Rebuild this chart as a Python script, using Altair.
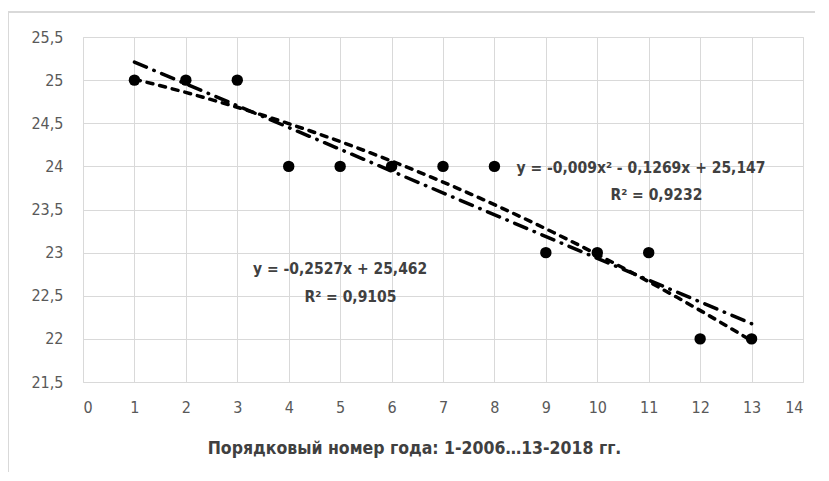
import altair as alt
import pandas as pd

years = [1, 2, 3, 4, 5, 6, 7, 8, 9, 10, 11, 12, 13]
values = [25, 25, 25, 24, 24, 24, 24, 24, 23, 23, 23, 22, 22]

ann_text = ["y = -0,009x² - 0,1269x + 25,147", "R² = 0,9232",
            "y = -0,2527x + 25,462", "R² = 0,9105"]
ann_x = [10.85, 11.15, 5.0, 5.2]
ann_y = [23.98, 23.67, 22.81, 22.48]

df = pd.DataFrame({"x": years, "y": values})
ann = pd.DataFrame({"x": ann_x, "y": ann_y, "t": ann_text})

LABEL_FONT = "Liberation Sans Narrow, DejaVu Sans Condensed, sans-serif"

xs = alt.Scale(domain=[0, 14], nice=False)
ys = alt.Scale(domain=[21.5, 25.5], nice=False, zero=False)

xaxis = alt.Axis(values=list(range(0, 15)), title="Порядковый  номер года: 1-2006…13-2018 гг.",
                 ticks=False, domain=False, labelPadding=17, labelFontSize=16,
                 labelColor="#595959", labelFont=LABEL_FONT, gridColor="#d9d9d9",
                 titleFont=LABEL_FONT, titleFontSize=17.5, titleColor="#404040",
                 titleFontWeight="bold", titlePadding=24, titleX=331, titleAlign="center")
yaxis = alt.Axis(values=[21.5, 22, 22.5, 23, 23.5, 24, 24.5, 25, 25.5], title=None,
                 ticks=False, domain=False, labelPadding=20, labelFontSize=16,
                 labelColor="#595959", labelFont=LABEL_FONT, gridColor="#d9d9d9",
                 labelExpr="replace(toString(datum.value), '.', ',')")

base = alt.Chart(df)

frame = alt.Chart(df).mark_rect(fill=None, stroke="#d9d9d9", strokeWidth=1.5).encode(
    x=alt.value(-75), x2=alt.value(800), y=alt.value(-25), y2=alt.value(520))

points = base.mark_circle(size=130, color="black", opacity=1).encode(
    x=alt.X("x:Q", scale=xs, axis=xaxis),
    y=alt.Y("y:Q", scale=ys, axis=yaxis),
)

lin = base.transform_regression("x", "y", method="linear", extent=[1, 13]).mark_line(
    color="black", strokeWidth=3.5, strokeDash=[13, 8, 0.5, 8], strokeCap="round"
).encode(x=alt.X("x:Q", scale=xs), y=alt.Y("y:Q", scale=ys))

poly = base.transform_regression("x", "y", method="poly", order=2, extent=[1, 13]).mark_line(
    color="black", strokeWidth=3.5, strokeDash=[6, 7], strokeCap="round"
).encode(x=alt.X("x:Q", scale=xs), y=alt.Y("y:Q", scale=ys))

texts = alt.Chart(ann).mark_text(font=LABEL_FONT, fontSize=15.5, fontWeight="bold",
                                 color="#404040", align="center", baseline="middle").encode(
    x=alt.X("x:Q", scale=xs), y=alt.Y("y:Q", scale=ys), text="t:N")

chart = alt.layer(frame, points, lin, poly, texts).properties(
    width=720, height=345,
    autosize=alt.AutoSizeParams(type="none"),
    padding={"left": 75, "top": 29, "right": 12, "bottom": 90},
).configure_view(stroke="#d9d9d9").configure(background="white")

chart.save("out.html", embed_options={"renderer": "svg", "actions": False})
